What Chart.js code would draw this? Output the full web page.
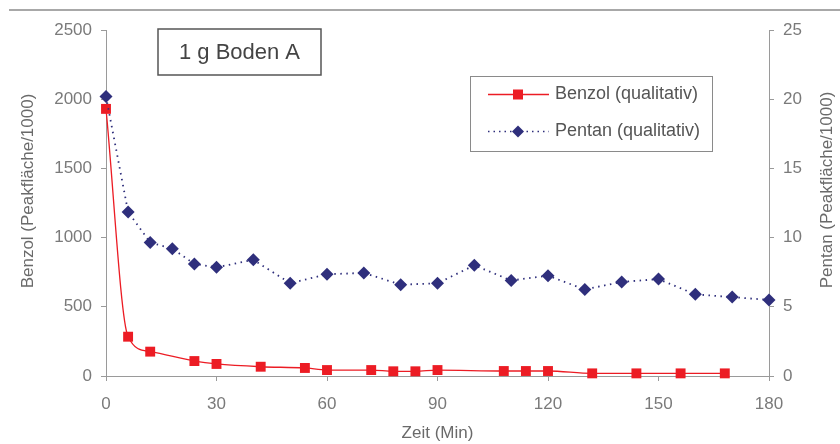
<!DOCTYPE html>
<html>
<head>
<meta charset="utf-8">
<script src="https://cdn.jsdelivr.net/npm/chart.js@4.4.1/dist/chart.umd.min.js"></script>
<style>
  html, body { margin: 0; padding: 0; background: #fff; }
  #wrap { width: 840px; height: 444px; position: relative; }
</style>
</head>
<body>
<div id="wrap"><canvas id="c" width="840" height="444"></canvas></div>
<script>
// ---- data ----
const benzolTime = [0, 6, 12, 24, 30, 42, 54, 60, 72, 78, 84, 90, 108, 114, 120, 132, 144, 156, 168];
const benzolArea = [1930, 284, 176, 108, 87, 67, 58, 43, 43, 34, 34, 43, 36, 36, 36, 19, 19, 19, 19];
const pentanTime = [0, 6, 12, 18, 24, 30, 40, 50, 60, 70, 80, 90, 100, 110, 120, 130, 140, 150, 160, 170, 180];
const pentanArea = [20.2, 11.85, 9.65, 9.2, 8.1, 7.85, 8.4, 6.7, 7.35, 7.45, 6.6, 6.7, 8.0, 6.9, 7.25, 6.25, 6.8, 7.0, 5.9, 5.7, 5.5];
const xTicksStep = 30, xMax = 180;
const yLeftMax = 2500, yLeftStep = 500;
const yRightMax = 25, yRightStep = 5;
const seriesNames = ['Benzol (qualitativ)', 'Pentan (qualitativ)'];
const titleText = '1 g Boden A';
const xTitle = 'Zeit (Min)';
const yLeftTitle = 'Benzol (Peakfläche/1000)';
const yRightTitle = 'Pentan (Peakfläche/1000)';

const FONT = '"Liberation Sans", Arial, sans-serif';
const RED = '#ec1c24';
const NAVY = '#2f2f7c';
const AXIS = '#9a9a9a';
const TICK = '#7a7a7a';

const decor = {
  id: 'decor',
  beforeDraw(chart) {
    const ctx = chart.ctx;
    ctx.save();
    ctx.fillStyle = '#fff';
    ctx.fillRect(0, 0, chart.width, chart.height);
    ctx.fillStyle = '#a8a8a8';
    ctx.fillRect(9, 9, chart.width - 9, 2);
    ctx.restore();
  },
  afterDraw(chart) {
    const ctx = chart.ctx;
    ctx.save();
    // axis titles (reading bottom to top on both sides)
    ctx.fillStyle = '#6a6a6a';
    ctx.font = '17px ' + FONT;
    ctx.textAlign = 'center';
    ctx.textBaseline = 'middle';
    ctx.save(); ctx.translate(28, 191); ctx.rotate(-Math.PI / 2); ctx.fillText(yLeftTitle, 0, 0); ctx.restore();
    ctx.save(); ctx.translate(827, 190); ctx.rotate(-Math.PI / 2); ctx.fillText(yRightTitle, 0, 0); ctx.restore();

    // title box
    ctx.strokeStyle = '#555';
    ctx.lineWidth = 1.5;
    ctx.strokeRect(158, 29, 163, 46);
    ctx.fillStyle = '#444';
    ctx.font = '22px ' + FONT;
    ctx.fillText(titleText, 239.5, 53);

    // legend box
    ctx.strokeStyle = '#8a8a8a';
    ctx.lineWidth = 1;
    ctx.strokeRect(470.5, 76.5, 242, 75);
    // row 1
    ctx.strokeStyle = RED; ctx.lineWidth = 1.3;
    ctx.beginPath(); ctx.moveTo(488, 94.5); ctx.lineTo(549, 94.5); ctx.stroke();
    ctx.fillStyle = RED; ctx.fillRect(513, 89.5, 10, 10);
    // row 2
    ctx.strokeStyle = NAVY; ctx.lineWidth = 1.6; ctx.setLineDash([1.5, 4]);
    ctx.beginPath(); ctx.moveTo(488, 131.5); ctx.lineTo(549, 131.5); ctx.stroke();
    ctx.setLineDash([]);
    ctx.fillStyle = NAVY;
    ctx.beginPath(); ctx.moveTo(518, 125.5); ctx.lineTo(524, 131.5); ctx.lineTo(518, 137.5); ctx.lineTo(512, 131.5); ctx.closePath(); ctx.fill();
    ctx.fillStyle = '#555';
    ctx.font = '18px ' + FONT;
    ctx.textAlign = 'left';
    ctx.fillText(seriesNames[0], 555, 94.5);
    ctx.fillText(seriesNames[1], 555, 131.5);
    ctx.restore();
  }
};

const gridOpts = { display: true, drawOnChartArea: false, drawTicks: true, tickLength: 5, tickColor: AXIS, color: AXIS };
const borderOpts = { display: true, color: AXIS, width: 1 };
const tickFont = { family: FONT, size: 17 };
const plain = v => String(v);

new Chart(document.getElementById('c'), {
  type: 'line',
  data: {
    datasets: [
      {
        label: seriesNames[1],
        data: pentanTime.map((t, i) => ({ x: t, y: pentanArea[i] })),
        yAxisID: 'y2',
        borderColor: NAVY,
        borderWidth: 1.8,
        borderDash: [1.5, 4.5],
        backgroundColor: NAVY,
        pointStyle: 'rectRot',
        pointRadius: 6.5,
        pointBorderWidth: 0,
        pointBackgroundColor: NAVY,
        tension: 0,
        clip: false,
        order: 0
      },
      {
        label: seriesNames[0],
        data: benzolTime.map((t, i) => ({ x: t, y: benzolArea[i] })),
        yAxisID: 'y',
        borderColor: RED,
        borderWidth: 1.3,
        backgroundColor: RED,
        pointStyle: 'rect',
        pointRadius: 7,
        pointBorderWidth: 0,
        pointBackgroundColor: RED,
        cubicInterpolationMode: 'monotone',
        clip: false,
        order: 1
      }
    ]
  },
  options: {
    responsive: false,
    animation: false,
    devicePixelRatio: 1,
    layout: { padding: { top: 30, left: 0, right: 0, bottom: 0 } },
    plugins: { legend: { display: false }, tooltip: { enabled: false }, title: { display: false } },
    scales: {
      x: {
        type: 'linear', min: 0, max: xMax,
        ticks: { stepSize: xTicksStep, font: tickFont, color: TICK, padding: 13, maxRotation: 0, callback: plain },
        grid: gridOpts, border: borderOpts,
        title: { display: true, text: xTitle, font: { family: FONT, size: 17 }, color: '#6a6a6a', padding: { top: 0, bottom: 0 } },
        afterFit(s) { s.height = 68; }
      },
      y: {
        position: 'left', min: 0, max: yLeftMax,
        ticks: { stepSize: yLeftStep, font: tickFont, color: TICK, padding: 9, callback: plain },
        grid: gridOpts, border: borderOpts,
        afterFit(s) { s.width = 106; }
      },
      y2: {
        position: 'right', min: 0, max: yRightMax,
        ticks: { stepSize: yRightStep, font: tickFont, color: TICK, padding: 9, callback: plain },
        grid: gridOpts, border: borderOpts,
        afterFit(s) { s.width = 71; }
      }
    }
  },
  plugins: [decor]
});
</script>
</body>
</html>
